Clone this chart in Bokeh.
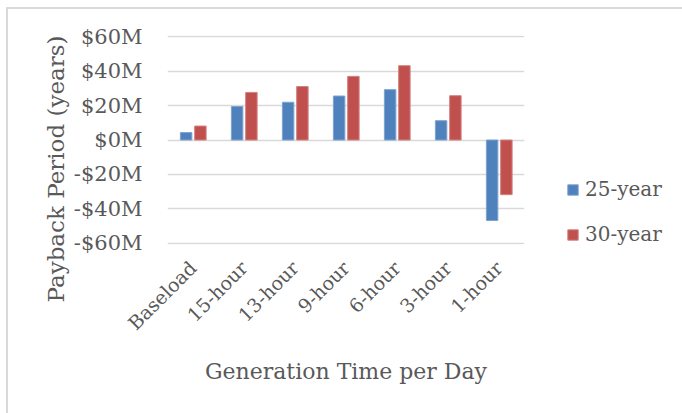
from bokeh.plotting import figure
from bokeh.models import (ColumnDataSource, FactorRange, FixedTicker, Legend, LegendItem, Title)
from bokeh.transform import dodge
from bokeh.embed import file_html
from bokeh.resources import INLINE

categories = ["Baseload", "15-hour", "13-hour", "9-hour", "6-hour", "3-hour", "1-hour"]
series_25 = [4.3, 19.4, 21.9, 25.5, 29.2, 11.2, -46.7]
series_30 = [8.1, 27.6, 31.0, 36.9, 43.1, 25.7, -31.7]
series_names = ["25-year", "30-year"]
tick_values = [-60, -40, -20, 0, 20, 40, 60]
tick_labels = ["-$60M", "-$40M", "-$20M", "$0M", "$20M", "$40M", "$60M"]

FONT = "DejaVu Serif"
TEXT = "#595959"
BLUE = "#4F81BD"
RED = "#C0504D"

src = ColumnDataSource(dict(cat=categories, a=series_25, b=series_30))

OX, OY = 8, 9  # offset of the chart's border
p = figure(x_range=FactorRange(*categories), y_range=(-60.6, 60.6),
           width=682 - OX, height=413 - OY, output_backend="svg", toolbar_location=None,
           min_border_left=167 - OX, min_border_top=35 - OY,
           min_border_right=158, min_border_bottom=169)
p.frame_width = 357
p.frame_height = 209
p.styles = {"margin-left": "6px", "margin-top": "7px",
            "border-top": "2px solid #D9D9D9", "border-left": "2px solid #D9D9D9"}

r1 = p.vbar(x=dodge("cat", -0.135, range=p.x_range), top="a", bottom=0, width=0.225,
            source=src, fill_color=BLUE, line_color="#7EA3D0", line_width=1)
r2 = p.vbar(x=dodge("cat", 0.145, range=p.x_range), top="b", bottom=0, width=0.225,
            source=src, fill_color=RED, line_color="#D48280", line_width=1)

p.outline_line_color = None
p.xgrid.grid_line_color = None
p.ygrid.grid_line_color = "#D9D9D9"
p.ygrid.grid_line_width = 1.5
p.yaxis.ticker = FixedTicker(ticks=tick_values)
p.yaxis.major_label_overrides = {v: l for v, l in zip(tick_values, tick_labels)}

for ax in (p.xaxis[0], p.yaxis[0]):
    ax.axis_line_color = None
    ax.major_tick_line_color = None
    ax.minor_tick_line_color = None
    ax.major_label_text_font = FONT
    ax.major_label_text_color = TEXT
    ax.axis_label_text_font = FONT
    ax.axis_label_text_color = TEXT
    ax.axis_label_text_font_style = "normal"

p.yaxis.major_label_text_font_size = "21px"
p.yaxis.major_label_standoff = 19

ytitle = Title(text="Payback Period (years)", align="left", offset=-58,
               text_font=FONT, text_font_size="23px", text_font_style="normal",
               text_color=TEXT, standoff=4)
p.add_layout(ytitle, "left")

p.xaxis.axis_label = "Generation Time per Day"
p.xaxis.axis_label_text_font_size = "22px"
p.xaxis.major_label_text_font_size = "19px"
p.xaxis.major_label_orientation = 0.785398
p.xaxis.major_label_standoff = 14
p.xaxis.axis_label_standoff = 14

legend = Legend(items=[LegendItem(label=series_names[0], renderers=[r1]),
                       LegendItem(label=series_names[1], renderers=[r2])],
                location=(42, -2))
legend.padding = 0
legend.margin = 0
legend.spacing = 21
legend.glyph_width = 13
legend.glyph_height = 13
legend.label_height = 20
legend.label_standoff = 6
legend.label_text_font = FONT
legend.label_text_font_size = "20px"
legend.label_text_color = TEXT
legend.border_line_color = None
legend.background_fill_alpha = 0
p.add_layout(legend, "right")

open("out.html", "w").write(file_html(p, INLINE))
